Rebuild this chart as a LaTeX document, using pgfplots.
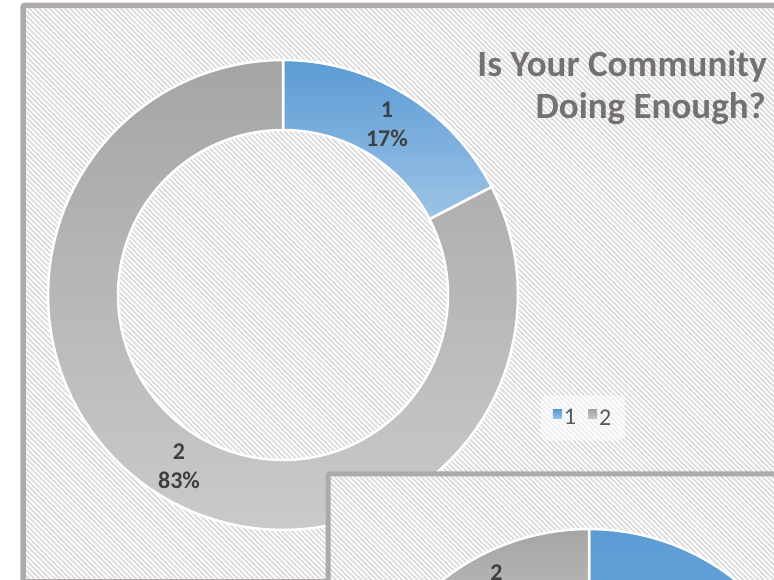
\documentclass[border=0pt]{standalone}
\usepackage{pgfplots}
\pgfplotsset{compat=1.18}
\usepackage{pgfplotstable}
\usepackage{fontspec}
\setmainfont{Carlito}
\usetikzlibrary{patterns.meta}
\definecolor{frameC}{HTML}{AEAAAA}
\definecolor{hatchC}{HTML}{DADADA}
\definecolor{blueTop}{HTML}{5B9BD5}
\definecolor{blueBot}{HTML}{9DC3E6}
\definecolor{grayTop}{HTML}{A5A5A5}
\definecolor{grayBot}{HTML}{CACACA}
\definecolor{titleC}{HTML}{767171}
\definecolor{labelC}{HTML}{404040}
\definecolor{legC}{HTML}{595959}

% chart A (main donut)
\pgfplotstableread{
label value
1 17.4
2 82.6
}\chartA
% chart B (overlapping second chart, mostly hidden)
\pgfplotstableread{
label value
1 84.7
2 15.3
}\chartB

\newcommand{\ringseg}[7]{%
\addplot[forget plot, #7, variable=\t, no markers, samples at={0,1,...,100,200,201,...,300}]
 ({#1+(\t<150 ? #3 : #4)*cos((\t<150 ? #5+(#6-#5)*\t/100 : #6-(#6-#5)*(\t-200)/100))},
  {#2+(\t<150 ? #3 : #4)*sin((\t<150 ? #5+(#6-#5)*\t/100 : #6-(#6-#5)*(\t-200)/100))}) -- cycle;}

\pgfplotsset{sqlegend/.style={no markers, legend image code/.code={%
  \shade[##1, sharp corners, fill opacity=1, draw=none] (0pt,-1pt) rectangle (9pt,8pt);}}}

\begin{document}
\begin{tikzpicture}
\pgfplotstablegetelem{0}{value}\of\chartA \let\vAa\pgfplotsretval
\pgfplotstablegetelem{1}{value}\of\chartA \let\vAb\pgfplotsretval
\pgfplotstablegetelem{0}{value}\of\chartB \let\vBa\pgfplotsretval
\pgfplotstablegetelem{1}{value}\of\chartB \let\vBb\pgfplotsretval
\pgfmathsetmacro\Aa{90}
\pgfmathsetmacro\Ab{90-3.6*\vAa}
\pgfmathsetmacro\Ac{\Ab-3.6*\vAb}
\pgfmathsetmacro\Ma{(\Aa+\Ab)/2}
\pgfmathsetmacro\Mb{(\Ab+\Ac)/2}
\pgfmathsetmacro\Ba{90}
\pgfmathsetmacro\Bb{90-3.6*\vBa}
\pgfmathsetmacro\Bc{\Bb-3.6*\vBb}
\pgfmathsetmacro\Nb{(\Bb+\Bc)/2}
\pgfmathsetmacro\LAax{283+200*cos(\Ma)}\pgfmathsetmacro\LAay{285+200*sin(\Ma)}
\pgfmathsetmacro\LAbx{283+200*cos(\Mb)}\pgfmathsetmacro\LAby{285+200*sin(\Mb)}
\pgfmathsetmacro\LBbx{589+200*cos(\Nb)}\pgfmathsetmacro\LBby{-185+200*sin(\Nb)}
\pgfmathtruncatemacro\PAa{round(\vAa)}\pgfmathtruncatemacro\PAb{round(\vAb)}
\pgfmathtruncatemacro\PBb{round(\vBb)}
\begin{axis}[
  at={(0,0)}, anchor=south west,
  x=1pt, y=1pt, xmin=0, xmax=774, ymin=0, ymax=580,
  hide axis, scale only axis, clip=false,
  legend style={at={(axis cs:583,162)}, anchor=center, legend columns=2,
    draw=none, fill=white, fill opacity=0.55, text opacity=1,
    rounded corners=6pt, inner xsep=12pt, inner ysep=12pt,
    font=\fontsize{24}{26}\selectfont, text=legC,
    /tikz/every even column/.append style={column sep=10pt}},
]
% frame 1
\fill[white] (23,574.5) rectangle (800,-2);
\fill[pattern={Lines[angle=-45,distance=3.6pt,line width=1.7pt]}, pattern color=hatchC] (23,574.5) rectangle (800,-2);
\draw[frameC, line width=5.5pt, rounded corners=2pt] (23,574.5) rectangle (800,-2);
% donut A
\ringseg{283}{285}{235}{165}{\Aa}{\Ab}{top color=blueTop, bottom color=blueBot, draw=white, line width=2.5pt}
\ringseg{283}{285}{235}{165}{\Ab}{\Ac}{top color=grayTop, bottom color=grayBot, draw=white, line width=2.5pt}
\node[font=\fontsize{24}{29}\selectfont\bfseries, text=labelC, align=center] at (\LAax,\LAay) {1\\\PAa\%};
\node[font=\fontsize{24}{29}\selectfont\bfseries, text=labelC, align=center] at (\LAbx,\LAby) {2\\\PAb\%};
% title
\node[font=\fontsize{37}{42}\selectfont\bfseries, text=titleC, anchor=base east, inner sep=0pt] at (767,503) {Is Your Community};
\node[font=\fontsize{37}{42}\selectfont\bfseries, text=titleC, anchor=base east, inner sep=0pt] at (766,461) {Doing Enough?};
% legend
\addlegendimage{sqlegend, top color=blueTop, bottom color=blueBot}
\addlegendentry{1}
\addlegendimage{sqlegend, top color=grayTop, bottom color=grayBot}
\addlegendentry{2}
% frame 2 (overlapping chart)
\fill[white] (328,106) rectangle (820,-300);
\fill[pattern={Lines[angle=-45,distance=3.6pt,line width=1.7pt]}, pattern color=hatchC] (328,106) rectangle (820,-300);
\draw[frameC, line width=5pt, rounded corners=2pt] (328,106) rectangle (820,-300);
% donut B
\ringseg{589}{-185}{236}{165}{\Ba}{\Bb}{top color=blueTop, bottom color=blueBot, draw=white, line width=2.5pt}
\ringseg{589}{-185}{236}{165}{\Bb}{\Bc}{top color=grayTop, bottom color=grayBot, draw=white, line width=2.5pt}
\node[font=\fontsize{24}{29}\selectfont\bfseries, text=labelC, align=center] at (\LBbx,\LBby) {2\\\PBb\%};
\end{axis}
\pgfresetboundingbox
\path[use as bounding box] (0,0) rectangle (774pt,580pt);
\end{tikzpicture}
\end{document}
